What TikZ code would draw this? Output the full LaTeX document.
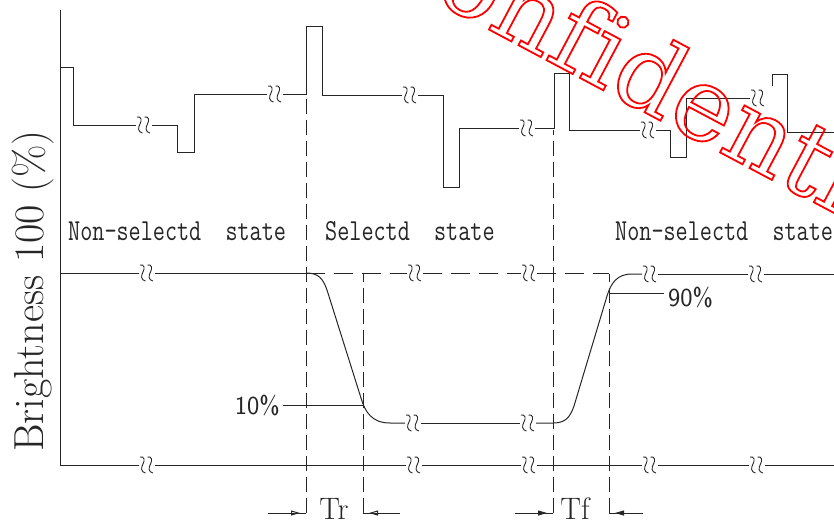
\documentclass[tikz,border=0pt]{standalone}
\usepackage{fontspec}
\usepackage{graphicx}
\usetikzlibrary{arrows.meta}
\newfontfamily\wmfont{DejaVu Serif}
\begin{document}
\begin{tikzpicture}[x=1pt,y=-1pt,
  ln/.style={draw=black!85, line width=1pt},
  dsh/.style={ln, dash pattern=on 15pt off 6pt},
  hdsh/.style={ln, dash pattern=on 19pt off 9pt},
  lbl/.style={inner sep=0pt, text=black!85},
  mono/.style={lbl, anchor=base west, font=\fontsize{23.5}{25}\ttfamily},
  openarr/.style={ln, -{Triangle[open,length=9pt,width=5pt]}},
  fillarr/.style={ln, -{Triangle[length=9pt,width=5pt]}},
  brk/.pic={
    \draw[draw=black!85, line width=0.9pt]
      (-7,-8) .. controls (-2.5,-9) and (-2,-4.5) .. (-4,-1)
              .. controls (-6,2.5) and (-6.5,7) .. (-1.5,8);
    \draw[draw=black!85, line width=0.9pt]
      (0.5,-8) .. controls (5,-9) and (5.5,-4.5) .. (3.5,-1)
             .. controls (1.5,2.5) and (1,7) .. (6,8);
  }
]
\useasboundingbox (0,0) rectangle (834,527);

% axis
\draw[ln] (60,10) -- (60,465);

% top drive waveform
\draw[ln] (60,67) -- (73,67) -- (73,125) -- (136,125);
\pic at (144,125) {brk};
\draw[ln] (152,125) -- (177,125) -- (177,152) -- (194,152) -- (194,94) -- (267,94);
\pic at (275,94) {brk};
\draw[ln] (283,94) -- (306,94) -- (306,27) -- (322,27) -- (322,95) -- (402,95);
\pic at (410,95) {brk};
\draw[ln] (418,95) -- (443,95) -- (443,187) -- (459,187) -- (459,128) -- (519,128);
\pic at (527,128) {brk};
\draw[ln] (535,128) -- (554,128) -- (554,73) -- (569,73) -- (569,130) -- (640,130);
\pic at (648,130) {brk};
\draw[ln] (656,130) -- (670,130) -- (670,157) -- (686,157) -- (686,98) -- (750,98);
\pic at (758,98) {brk};
\draw[ln] (772,86) -- (772,74) -- (787,74) -- (787,132) -- (834,132);

% dashed verticals
\draw[dsh] (306,513) -- (306,95);
\draw[dsh] (363,513) -- (363,274);
\draw[dsh] (553,513) -- (553,130);
\draw[dsh] (609,513) -- (609,274);

% 100% level
\draw[ln] (60,273) -- (139,273);
\pic at (147,273) {brk};
\draw[ln] (155,273) -- (306,273);
\draw[hdsh] (306,273) -- (407,273);
\pic at (415,273) {brk};
\draw[hdsh] (423,273) -- (521,273);
\pic at (529,273) {brk};
\draw[hdsh] (537,273) -- (609,273);

% brightness curve
\draw[ln] (306,273) .. controls (319,273) and (323,279) .. (327,290) -- (361,398)
  .. controls (365,412) and (372,423) .. (390,423) -- (405,423);
\pic at (413,423) {brk};
\draw[ln] (421,423) -- (520,423);
\pic at (528,423) {brk};
\draw[ln] (536,423) -- (553,423) .. controls (566,423) and (570,417) .. (574,406)
  -- (607,296) .. controls (611,283) and (617,274) .. (632,274) -- (642,274);
\pic at (650,274) {brk};
\draw[ln] (658,274) -- (748,274);
\pic at (756,274) {brk};
\draw[ln] (764,274) -- (834,274);

% 0 level
\draw[ln] (60,465) -- (139,465);
\pic at (147,465) {brk};
\draw[ln] (155,465) -- (406,465);
\pic at (414,465) {brk};
\draw[ln] (422,465) -- (521,465);
\pic at (529,465) {brk};
\draw[ln] (537,465) -- (642,465);
\pic at (650,465) {brk};
\draw[ln] (658,465) -- (749,465);
\pic at (757,465) {brk};
\draw[ln] (765,465) -- (834,465);

% 10% / 90% markers
\node[lbl, anchor=east, font=\fontsize{26}{28}\sffamily] (p10) at (280,405) {10\%};
\draw[ln] (p10.east) ++(3,0) -- (363,405);
\node[lbl, anchor=west, font=\fontsize{26}{28}\sffamily] (p90) at (668,297) {90\%};
\draw[ln] (609,293) -- (664,293);

% state labels
\node[mono] (ns1) at (68,240) {\scalebox{1}[1.3]{Non-selectd~~state}};
\node[mono] (sel) at (325,240) {\scalebox{1}[1.3]{Selectd~~state}};
\node[mono] (ns2) at (615,240) {\scalebox{1}[1.3]{Non-selectd~~state}};

% y label
\node[lbl, rotate=90, anchor=base, font=\fontsize{42}{44}\selectfont] (ylab) at (43,291) {Brightness 100 (\%)};

% Tr / Tf
\node[lbl, anchor=base, font=\fontsize{31}{33}\selectfont] (tr) at (334,519) {Tr};
\node[lbl, anchor=base, font=\fontsize{31}{33}\selectfont] (tf) at (575,519) {Tf};

\coordinate (tra) at (268,513);
\coordinate (trb) at (400,513);
\coordinate (tfa) at (515,513);
\coordinate (tfb) at (643,513);
\draw[ln] (tra) -- (306,513);
\draw[openarr] (tra) -- (300,513);
\draw[ln] (trb) -- (363,513);
\draw[openarr] (trb) -- (369,513);
\draw[ln] (tfa) -- (553,513);
\draw[fillarr] (tfa) -- (547,513);
\draw[ln] (tfb) -- (609,513);
\draw[fillarr] (tfb) -- (615,513);

% watermark
\begin{scope}
\clip (0,0) rectangle (834,527);
\node[inner sep=0pt, rotate=-28, anchor=base west, text=red,
      font=\fontsize{102}{102}\wmfont] (wm) at (362,-38)
  {\special{pdf:literal direct 1 0 0 RG 1.8 w 1 Tr}Conf\kern0pt idential\special{pdf:literal direct 0 Tr}};
\end{scope}
\end{tikzpicture}
\end{document}
